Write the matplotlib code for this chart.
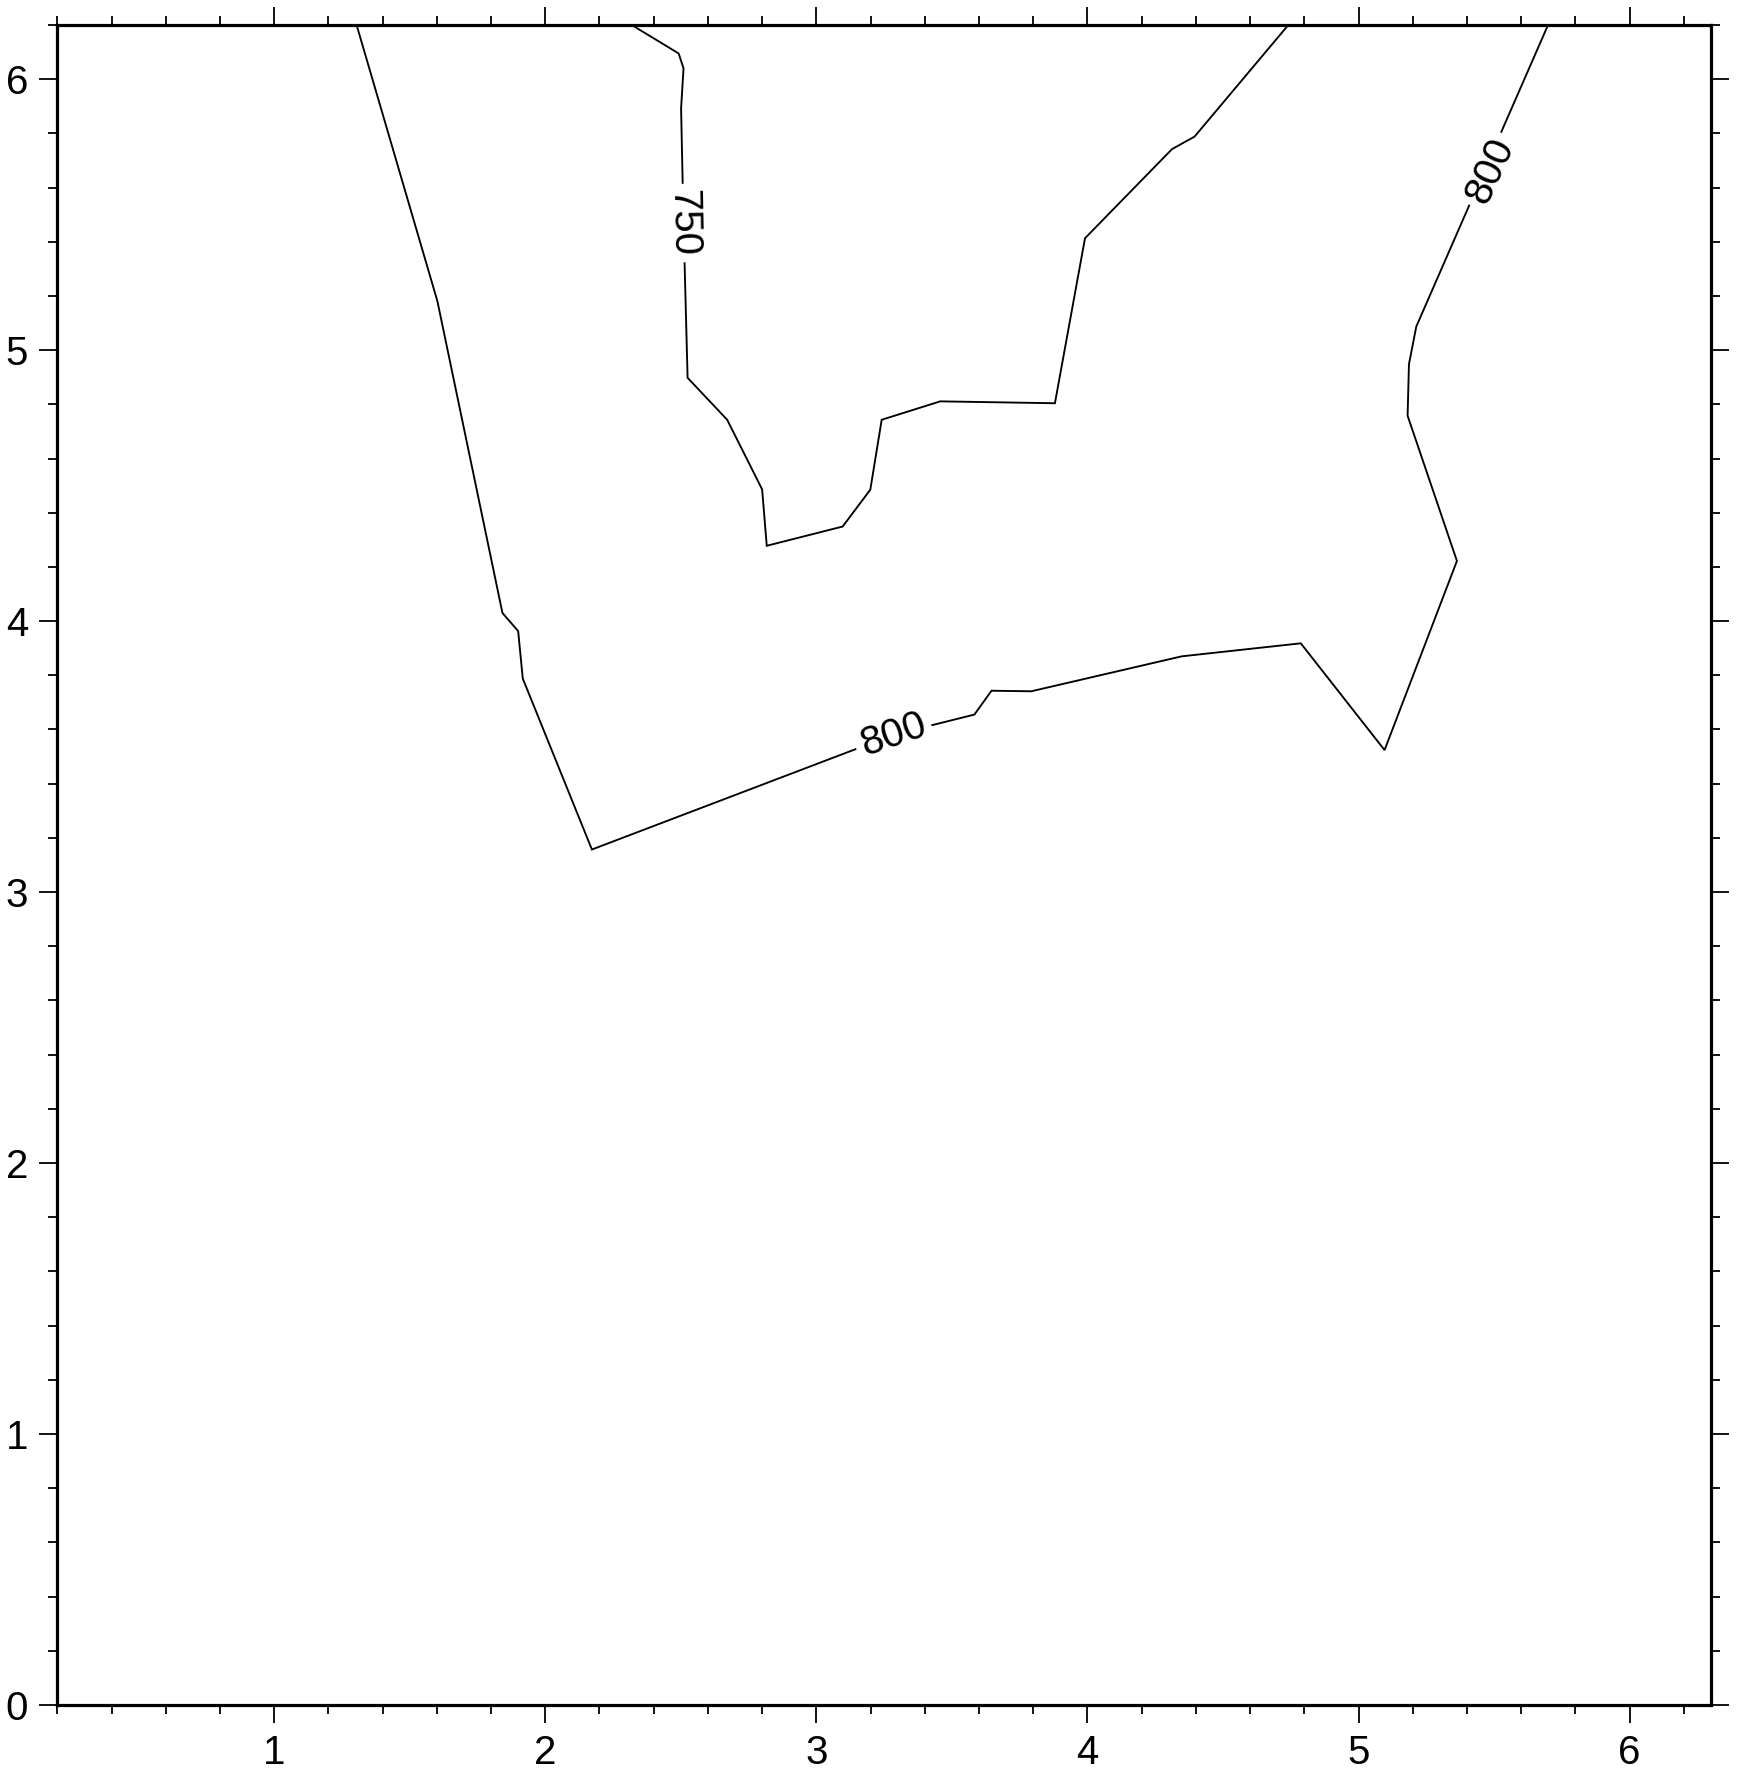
import matplotlib.pyplot as plt
from matplotlib.ticker import MultipleLocator

# контур 800 (великий)
x_800 = [1.304, 1.602, 1.842, 1.900, 1.917, 2.172, 3.283, 3.583, 3.646, 3.793,
         4.348, 4.787, 5.096, 5.363, 5.181, 5.186, 5.213, 5.699]
y_800 = [6.200, 5.181, 4.030, 3.963, 3.788, 3.157, 3.580, 3.655, 3.743, 3.741,
         3.870, 3.918, 3.524, 4.222, 4.758, 4.948, 5.087, 6.200]

# контур 750
x_750 = [2.319, 2.492, 2.510, 2.501, 2.510, 2.525, 2.671, 2.800, 2.817, 3.097,
         3.199, 3.241, 3.457, 3.880, 3.991, 4.312, 4.395, 4.741]
y_750 = [6.200, 6.095, 6.040, 5.892, 5.469, 4.898, 4.743, 4.486, 4.278, 4.349,
         4.485, 4.743, 4.811, 4.804, 5.413, 5.742, 5.788, 6.200]

# підписи контурів
label_text = ['750', '800', '800']
label_x = [2.510, 3.283, 5.484]
label_y = [5.469, 3.580, 5.662]
label_rot = [-89, 19, 65.5]

xlim = (0.2, 6.3)
ylim = (0.0, 6.2)

plt.rcParams['font.family'] = ['Liberation Sans', 'DejaVu Sans']

fig = plt.figure(figsize=(17.37, 17.73), dpi=100)
ax = fig.add_axes([0.033, 0.0384, 0.952, 0.9475])

ax.plot(x_750, y_750, color='black', lw=1.35, solid_joinstyle='miter')
ax.plot(x_800, y_800, color='black', lw=1.35, solid_joinstyle='miter')

for t, x, y, r in zip(label_text, label_x, label_y, label_rot):
    ax.text(x, y, t, fontsize=29, rotation=r, rotation_mode='anchor',
            ha='center', va='center',
            bbox=dict(facecolor='white', edgecolor='none', pad=4))

ax.set_xlim(*xlim)
ax.set_ylim(*ylim)

ax.xaxis.set_major_locator(MultipleLocator(1))
ax.xaxis.set_minor_locator(MultipleLocator(0.2))
ax.yaxis.set_major_locator(MultipleLocator(1))
ax.yaxis.set_minor_locator(MultipleLocator(0.2))

for s in ax.spines.values():
    s.set_linewidth(2.3)
    s.set_capstyle('projecting')

ax.tick_params(which='both', direction='out', top=True, right=True,
               labeltop=False, labelright=False, labelsize=29, width=1.3)
ax.tick_params(which='major', length=13, pad=8)
ax.tick_params(which='minor', length=6.5)

fig.savefig('out.png', dpi=100)
